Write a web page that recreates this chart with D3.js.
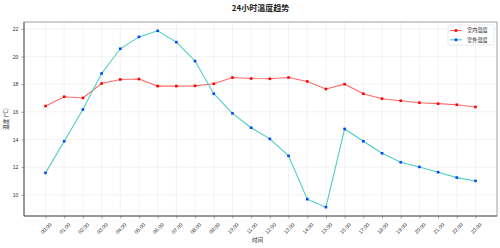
<!DOCTYPE html>
<html>
<head>
<meta charset="utf-8">
<script src="https://cdn.jsdelivr.net/npm/d3@7"></script>
<style>
  body { margin: 0; background: #fff; }
  svg { display: block; font-family: "Noto Sans CJK SC", "DejaVu Sans", sans-serif; }
</style>
</head>
<body>
<svg id="chart"></svg>
<script>
// 数据
const hours = ['00:00', '01:00', '02:00', '03:00', '04:00', '05:00', '06:00', '07:00',
  '08:00', '09:00', '10:00', '11:00', '12:00', '13:00', '14:00', '15:00',
  '16:00', '17:00', '18:00', '19:00', '20:00', '21:00', '22:00', '23:00'];
const indoor = [16.42, 17.09, 17.0, 18.05, 18.34, 18.37, 17.86, 17.86, 17.88, 18.03, 18.48, 18.41,
  18.39, 18.48, 18.2, 17.65, 18.0, 17.31, 16.95, 16.8, 16.66, 16.59, 16.51, 16.35];
const outdoor = [11.58, 13.87, 16.17, 18.77, 20.56, 21.42, 21.86, 21.04, 19.67, 17.31, 15.89, 14.85,
  14.04, 12.81, 9.68, 9.1, 14.76, 13.87, 13.0, 12.35, 12.01, 11.63, 11.24, 11.0];
const yTicks = [10, 12, 14, 16, 18, 20, 22];
const seriesNames = ['室内温度', '室外温度'];

const W = 500, H = 248;
const margin = { top: 22, right: 3, bottom: 32, left: 24 };

const svg = d3.select('#chart').attr('width', W).attr('height', H);

// 跟 matplotlib 一样留 5% 边距
const all = indoor.concat(outdoor);
const yMin = d3.min(all), yMax = d3.max(all);
const yPad = (yMax - yMin) * 0.05;
const x = d3.scaleLinear()
  .domain([-1.15, 24.15])
  .range([margin.left, W - margin.right]);
const y = d3.scaleLinear()
  .domain([yMin - yPad, yMax + yPad])
  .range([H - margin.bottom, margin.top]);

const g = svg.append('g');

// 网格线
g.append('g')
  .selectAll('line.vg')
  .data(hours)
  .join('line')
  .attr('x1', (d, i) => x(i)).attr('x2', (d, i) => x(i))
  .attr('y1', margin.top).attr('y2', H - margin.bottom)
  .attr('stroke', '#ebebeb').attr('stroke-width', 0.6);
g.append('g')
  .selectAll('line.hg')
  .data(yTicks)
  .join('line')
  .attr('x1', margin.left).attr('x2', W - margin.right)
  .attr('y1', d => y(d)).attr('y2', d => y(d))
  .attr('stroke', '#ebebeb').attr('stroke-width', 0.6);

// 坐标轴
const xAxis = g.append('g')
  .attr('transform', `translate(0,${H - margin.bottom})`)
  .call(d3.axisBottom(x).tickValues(d3.range(hours.length)).tickFormat(i => hours[i]).tickSize(2.5));
xAxis.selectAll('text')
  .attr('font-size', 5.2)
  .attr('fill', '#333')
  .attr('text-anchor', 'end')
  .attr('transform', 'translate(0,3) rotate(-45)')
  .attr('dx', 0).attr('dy', '0.6em');

const yAxis = g.append('g')
  .attr('transform', `translate(${margin.left},0)`)
  .call(d3.axisLeft(y).tickValues(yTicks).tickSize(2.5));
yAxis.selectAll('text').attr('font-size', 5.2).attr('fill', '#333');

[xAxis, yAxis].forEach(a => {
  a.select('.domain').remove();
  a.selectAll('line').attr('stroke', '#666').attr('stroke-width', 0.6);
});

// 边框
g.append('rect')
  .attr('x', margin.left).attr('y', margin.top)
  .attr('width', W - margin.left - margin.right)
  .attr('height', H - margin.top - margin.bottom)
  .attr('fill', 'none').attr('stroke', '#888').attr('stroke-width', 0.8);
g.append('line')
  .attr('x1', margin.left).attr('x2', margin.left)
  .attr('y1', margin.top).attr('y2', H - margin.bottom)
  .attr('stroke', '#555').attr('stroke-width', 0.9);
g.append('line')
  .attr('x1', margin.left).attr('x2', W - margin.right)
  .attr('y1', H - margin.bottom).attr('y2', H - margin.bottom)
  .attr('stroke', '#555').attr('stroke-width', 0.9);

// 折线
const series = [
  { name: seriesNames[0], values: indoor, line: '#ff6b6b', dot: '#ff0000' },
  { name: seriesNames[1], values: outdoor, line: '#4ecdc4', dot: '#0044ff' },
];
const lineGen = d3.line().x((d, i) => x(i)).y(d => y(d));

series.forEach(s => {
  g.append('path')
    .datum(s.values)
    .attr('d', lineGen)
    .attr('fill', 'none')
    .attr('stroke', s.line)
    .attr('stroke-width', 1.1);
  g.append('g')
    .selectAll('rect')
    .data(s.values)
    .join('rect')
    .attr('x', (d, i) => x(i) - 1.3)
    .attr('y', d => y(d) - 1.3)
    .attr('width', 2.6).attr('height', 2.6)
    .attr('fill', s.dot);
});

// 标题和轴标签
svg.append('text')
  .attr('x', (margin.left + W - margin.right) / 2).attr('y', 11)
  .attr('text-anchor', 'middle')
  .attr('font-size', 8).attr('font-weight', 'bold').attr('fill', '#222')
  .text('24小时温度趋势');
svg.append('text')
  .attr('x', (margin.left + W - margin.right) / 2 - 3).attr('y', 242)
  .attr('text-anchor', 'middle')
  .attr('font-size', 5.5).attr('fill', '#222')
  .text('时间');
svg.append('text')
  .attr('transform', `translate(8,${(margin.top + H - margin.bottom) / 2}) rotate(-90)`)
  .attr('text-anchor', 'middle')
  .attr('font-size', 5.5).attr('fill', '#222')
  .text('温度 (°C)');

// 图例
const lg = svg.append('g').attr('transform', 'translate(448,25)');
lg.append('rect')
  .attr('width', 46).attr('height', 20)
  .attr('rx', 1.5)
  .attr('fill', '#fff').attr('fill-opacity', 0.85)
  .attr('stroke', '#ddd').attr('stroke-width', 0.6);
series.forEach((s, i) => {
  const yy = 5.5 + i * 9.3;
  lg.append('line')
    .attr('x1', 2).attr('x2', 14).attr('y1', yy).attr('y2', yy)
    .attr('stroke', s.line).attr('stroke-width', 1.1);
  lg.append('rect')
    .attr('x', 8 - 1.3).attr('y', yy - 1.3).attr('width', 2.6).attr('height', 2.6)
    .attr('fill', s.dot);
  lg.append('text')
    .attr('x', 19).attr('y', yy).attr('dy', '0.35em')
    .attr('font-size', 5.2).attr('fill', '#222')
    .text(s.name);
});
</script>
</body>
</html>
